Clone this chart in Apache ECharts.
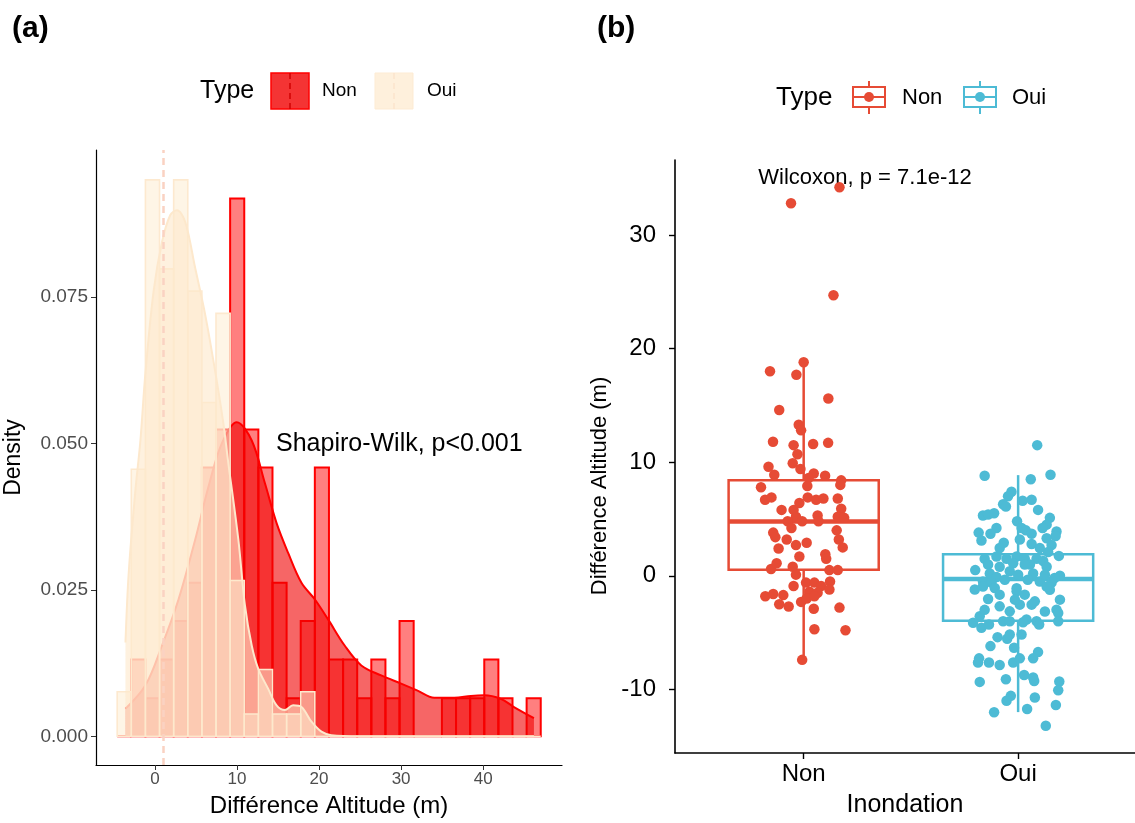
<!DOCTYPE html>
<html>
<head>
<meta charset="utf-8">
<script src="https://cdn.jsdelivr.net/npm/echarts@6/dist/echarts.min.js"></script>
<style>
  html, body { margin: 0; padding: 0; background: #fff; }
  #chart { width: 1135px; height: 823px; }
</style>
</head>
<body>
<div id="chart"></div>
<script>
// ---- panel (a): histogram + density ----
const binEdges = [-4.59, -2.87, -1.15, 0.57, 2.29, 4.01, 5.73, 7.45, 9.17, 10.89, 12.61, 14.33, 16.05, 17.77, 19.49,
  21.21, 22.93, 24.65, 26.37, 28.09, 29.81, 31.53, 33.25, 34.97, 36.69, 38.41, 40.13, 41.85, 43.57, 45.29, 47.01];
const histNon = [0, 0.0131, 0.0065, 0.0131, 0.0197, 0.0262, 0.0459, 0.0524, 0.0918, 0.0524, 0.0459, 0.0262, 0.0065, 0.0197, 0.0459,
  0.0131, 0.0131, 0.0065, 0.0131, 0.0065, 0.0197, 0, 0, 0.0065, 0.0065, 0.0065, 0.0131, 0.0065, 0, 0.0065];
const histOui = [0.0076, 0.0456, 0.0950, 0.0798, 0.0950, 0.0760, 0.0570, 0.0722, 0.0266, 0.0038, 0.0114, 0.0038, 0.0038, 0.0076, 0,
  0, 0, 0, 0, 0, 0, 0, 0, 0, 0, 0, 0, 0, 0, 0];

const densNon = [[-3.58, 0.0047], [-1.15, 0.0087], [0.87, 0.0155], [2.89, 0.0234], [4.92, 0.0336], [6.53, 0.0426],
  [8.16, 0.0500], [9.98, 0.0536], [11.80, 0.0505], [13.41, 0.0432], [14.83, 0.0364], [16.24, 0.0313], [17.86, 0.0262],
  [19.48, 0.0234], [21.09, 0.0200], [23.12, 0.0155], [25.15, 0.0121], [27.57, 0.0104], [30.00, 0.0090], [32.01, 0.0078],
  [34.04, 0.0066], [36.47, 0.0066], [38.50, 0.0069], [40.11, 0.0070], [42.14, 0.0064], [43.75, 0.0050], [46.18, 0.0031]];
const densOui = [[-3.58, 0.0160], [-3.18, 0.0280], [-2.37, 0.0420], [-1.76, 0.0505], [-1.15, 0.0620], [-0.15, 0.0760],
  [0.87, 0.0844], [1.88, 0.0890], [2.69, 0.0898], [3.70, 0.0878], [4.92, 0.0799], [6.13, 0.0720], [7.34, 0.0624],
  [8.35, 0.0534], [8.92, 0.0470], [10.17, 0.0336], [10.98, 0.0223], [11.80, 0.0155], [12.60, 0.0115], [13.81, 0.0081],
  [14.83, 0.0053], [15.84, 0.0045], [16.84, 0.0053], [17.86, 0.0050], [19.08, 0.0025], [20.29, 0.0008], [21.50, 0.0002],
  [25.00, 0], [35.00, 0], [46.18, 0]];
const meanLine = 1.03;

const histTicksX = [0, 10, 20, 30, 40];
const histTicksY = [0, 0.025, 0.05, 0.075];

// ---- panel (b): boxplot + jitter ----
const groups = ['Non', 'Oui'];
// [position, lower whisker, Q1, median, Q3, upper whisker]
const boxStats = [[1, -7.4, 0.53, 4.77, 8.42, 18.8], [2, -12.0, -3.95, -0.29, 1.90, 8.86]];
const pointsNon = [[1.167,34.2],[0.941,32.8],[1.139,24.7],[1.000,18.8],[0.843,18.0],[0.966,17.7],[1.115,15.6],[0.886,14.6],
  [0.977,13.3],[0.988,12.8],[0.857,11.8],[0.953,11.5],[1.044,11.6],[1.114,11.7],[0.971,10.7],[0.949,9.9],[0.836,9.6],
  [0.985,9.4],[1.047,9.0],[0.863,8.9],[1.100,8.8],[1.023,8.6],[1.175,8.4],[1.171,8.0],[0.801,7.8],[0.820,6.7],[0.850,6.9],
  [0.897,5.8],[0.953,5.8],[0.980,6.4],[1.019,6.9],[1.058,6.7],[1.092,6.8],[1.159,6.8],[1.175,5.9],[0.964,5.2],[0.993,4.8],
  [0.925,4.8],[1.065,5.3],[1.069,4.8],[1.159,5.2],[1.154,4.0],[0.858,3.8],[0.868,3.4],[0.921,3.2],[0.964,2.7],[1.014,2.9],
  [0.883,2.4],[1.164,3.2],[1.182,2.5],[0.980,1.7],[1.101,1.9],[1.105,1.5],[0.848,0.6],[0.874,1.1],[0.949,0.8],[0.964,0.1],
  [1.120,0.5],[1.159,0.5],[0.953,-0.9],[1.011,-0.6],[1.050,-0.6],[1.081,-0.9],[1.123,-0.5],[1.120,-1.2],[0.821,-1.8],
  [0.858,-1.6],[0.905,-1.7],[1.027,-1.4],[1.065,-1.5],[0.886,-2.5],[0.930,-2.7],[0.988,-2.3],[1.014,-2.0],[1.050,-1.8],
  [1.047,-2.9],[1.167,-2.8],[1.050,-4.7],[1.195,-4.8],[0.993,-7.4],[1.017,7.9],[1.189,5.1],[0.943,4.2]];
const pointsOui = [[2.089,11.5],[1.844,8.8],[2.151,8.9],[2.059,8.5],[1.969,7.4],[1.953,7.0],[2.063,6.7],[2.021,6.6],
  [1.930,6.3],[1.943,6.1],[2.093,5.8],[1.836,5.3],[1.860,5.4],[1.888,5.5],[2.148,5.1],[1.995,4.8],[2.133,4.5],[2.114,4.2],
  [1.899,4.2],[1.816,3.8],[1.871,3.7],[2.016,4.2],[2.036,4.0],[2.063,3.7],[2.179,3.9],[2.175,3.5],[1.829,3.1],[1.933,2.9],
  [2.008,3.2],[2.063,2.8],[2.133,3.3],[2.156,2.7],[2.140,2.1],[1.844,1.5],[1.899,1.7],[1.946,1.5],[1.993,1.7],[2.031,1.5],
  [2.086,1.5],[2.117,1.3],[1.860,1.0],[1.914,0.8],[1.977,1.1],[2.055,1.0],[2.133,0.8],[1.868,0.2],[1.899,-0.1],[1.961,0.4],
  [2.000,0.1],[2.070,0.2],[2.195,0.0],[1.836,-0.5],[1.876,-0.6],[1.993,-1.1],[2.101,-0.5],[2.156,-0.6],
  [1.836,-0.94],[1.891,-1.08],[1.993,-1.37],[2.031,-1.66],[2.078,-2.25],[2.063,-2.54],[2.008,-2.54],[1.961,-3.13],
  [1.914,-2.69],[1.860,-2.04],[2.148,-1.23],[2.133,-0.94],[2.179,-2.98],[2.187,-3.27],[2.086,-4.0],[2.039,-3.85],
  [1.930,-4.0],[1.821,-3.56],[1.790,-4.14],[1.829,-4.58],[1.864,-4.29],[1.961,-4.0],[2.023,-4.09],[2.098,-4.29],[2.187,-4.0],
  [1.904,-5.4],[1.949,-5.54],[1.961,-5.17],[2.016,-5.17],[1.871,-6.19],[1.981,-6.33],[2.093,-6.72],[2.070,-7.27],
  [1.818,-7.27],[1.813,-7.64],[1.864,-7.64],[1.914,-7.85],[1.977,-7.64],[2.008,-7.27],[2.028,-8.73],[2.070,-8.96],
  [2.075,-9.26],[1.821,-9.34],[1.943,-9.11],[2.192,-9.31],[2.187,-10.07],[1.966,-10.57],[1.946,-11.0],[2.078,-10.71],
  [2.176,-11.38],[1.888,-12.02],[2.042,-11.73],[2.129,-13.2],
  [1.914,2.45],[2.101,2.45],[2.190,1.75],[1.938,-0.35],[2.045,-0.35],[2.125,0.1],[2.170,-0.2],[1.798,-1.2],[1.914,-1.66],
  [2.195,-2.1],[1.985,-2.1],[1.844,-3.0],[2.125,-3.15],[1.800,0.5],[2.031,1.0]];
const boxTicksY = [-10, 0, 10, 20, 30];

const RED = '#FF0000';
const C_NON = '#E64B35';
const C_OUI = '#4DBBD5';
const FONT = 'Liberation Sans, Arial, sans-serif';

function histItem(fill, stroke, lw) {
  return function (params, api) {
    const a = api.coord([api.value(0), api.value(2)]);
    const b = api.coord([api.value(1), 0]);
    return {
      type: 'rect',
      shape: { x: a[0], y: a[1], width: b[0] - a[0], height: b[1] - a[1] },
      style: { fill: fill, stroke: stroke, lineWidth: lw }
    };
  };
}

function boxItem(color) {
  return function (params, api) {
    const c = api.value(0), hw = 0.35;
    const lo = api.coord([c, api.value(1)]);
    const q1 = api.coord([c, api.value(2)]);
    const q3 = api.coord([c, api.value(4)]);
    const hi = api.coord([c, api.value(5)]);
    const l = api.coord([c - hw, api.value(3)]);
    const r = api.coord([c + hw, api.value(3)]);
    const st = { stroke: color, lineWidth: 2.5, fill: 'none' };
    return {
      type: 'group',
      children: [
        { type: 'line', shape: { x1: hi[0], y1: hi[1], x2: q3[0], y2: q3[1] }, style: st },
        { type: 'line', shape: { x1: q1[0], y1: q1[1], x2: lo[0], y2: lo[1] }, style: st },
        { type: 'rect', shape: { x: l[0], y: q3[1], width: r[0] - l[0], height: q1[1] - q3[1] }, style: st },
        { type: 'line', shape: { x1: l[0], y1: l[1], x2: r[0], y2: r[1] }, style: { stroke: color, lineWidth: 4.5 } }
      ]
    };
  };
}

const chart = echarts.init(document.getElementById('chart'), null, { renderer: 'canvas' });

const option = {
  backgroundColor: '#fff',
  animation: false,
  textStyle: { fontFamily: FONT },
  grid: [
    { left: 96, top: 150, right: 573, bottom: 45 },
    { left: 675, top: 160, right: 0, bottom: 53 }
  ],
  xAxis: [
    {
      gridIndex: 0, type: 'value', min: -7.17, max: 49.6,
      name: 'Différence Altitude (m)', nameLocation: 'middle', nameGap: 29,
      nameTextStyle: { fontSize: 24, color: '#000', fontFamily: FONT },
      axisLine: { onZero: false, lineStyle: { color: '#000', width: 1.2 } },
      axisTick: { customValues: histTicksX, length: 5, lineStyle: { color: '#333' } },
      axisLabel: { customValues: histTicksX, fontSize: 17, color: '#4D4D4D', margin: 6, fontFamily: FONT },
      splitLine: { show: false }
    },
    {
      gridIndex: 1, type: 'value', min: 0.4, max: 2.545,
      name: 'Inondation', nameLocation: 'middle', nameGap: 40,
      nameTextStyle: { fontSize: 25, color: '#000', fontFamily: FONT },
      axisLine: { onZero: false, lineStyle: { color: '#000', width: 1.6 } },
      axisTick: { customValues: [1, 2], length: 6, lineStyle: { color: '#000', width: 1.4 } },
      axisLabel: {
        customValues: [1, 2], fontSize: 24, color: '#000', margin: 9, fontFamily: FONT,
        formatter: function (v) { return groups[Math.round(v) - 1]; }
      },
      splitLine: { show: false }
    }
  ],
  yAxis: [
    {
      gridIndex: 0, type: 'value', min: -0.0049, max: 0.1001,
      name: 'Density', nameLocation: 'middle', nameGap: 71,
      nameTextStyle: { fontSize: 23, color: '#000', fontFamily: FONT },
      axisLine: { onZero: false, lineStyle: { color: '#000', width: 1.2 } },
      axisTick: { customValues: histTicksY, length: 5, lineStyle: { color: '#333' } },
      axisLabel: {
        customValues: histTicksY, fontSize: 19, color: '#4D4D4D', margin: 8, fontFamily: FONT,
        formatter: function (v) { return v.toFixed(3); }
      },
      splitLine: { show: false }
    },
    {
      gridIndex: 1, type: 'value', min: -15.6, max: 36.6,
      axisLine: { onZero: false, lineStyle: { color: '#000', width: 1.6 } },
      axisTick: { customValues: boxTicksY, length: 6, lineStyle: { color: '#000', width: 1.4 } },
      axisLabel: { customValues: boxTicksY, fontSize: 24, color: '#000', margin: 19, fontFamily: FONT },
      splitLine: { show: false }
    }
  ],
  series: [
    {
      name: 'histNon', type: 'custom', xAxisIndex: 0, yAxisIndex: 0, z: 1,
      renderItem: histItem('rgba(255,0,0,0.5)', RED, 2),
      data: histNon.map(function (h, i) { return [binEdges[i], binEdges[i + 1], h]; }),
      silent: true
    },
    {
      name: 'densNon', type: 'line', xAxisIndex: 0, yAxisIndex: 0, z: 2,
      data: densNon, smooth: 0.35, showSymbol: false,
      lineStyle: { color: RED, width: 2 },
      areaStyle: { color: 'rgba(240,0,0,0.6)', opacity: 1 },
      silent: true
    },
    {
      name: 'histOui', type: 'custom', xAxisIndex: 0, yAxisIndex: 0, z: 3,
      renderItem: histItem('rgba(254,236,210,0.55)', '#FDE9CF', 1.6),
      data: histOui.map(function (h, i) { return [binEdges[i], binEdges[i + 1], h]; }),
      silent: true
    },
    {
      name: 'densOui', type: 'line', xAxisIndex: 0, yAxisIndex: 0, z: 4,
      data: densOui, smooth: 0.35, showSymbol: false,
      lineStyle: { color: '#FDE8CC', width: 2 },
      areaStyle: { color: 'rgba(253,232,204,0.62)', opacity: 1 },
      markLine: {
        silent: true, symbol: ['none', 'none'], label: { show: false },
        lineStyle: { color: '#FAD2C2', width: 2.5, type: [7, 5] },
        data: [{ xAxis: meanLine }]
      },
      silent: true
    },
    {
      name: 'boxNon', type: 'custom', xAxisIndex: 1, yAxisIndex: 1, z: 5,
      renderItem: boxItem(C_NON), data: [boxStats[0]], silent: true
    },
    {
      name: 'boxOui', type: 'custom', xAxisIndex: 1, yAxisIndex: 1, z: 5,
      renderItem: boxItem(C_OUI), data: [boxStats[1]], silent: true
    },
    {
      name: 'ptsNon', type: 'scatter', xAxisIndex: 1, yAxisIndex: 1, z: 6,
      data: pointsNon, symbolSize: 10.5, itemStyle: { color: C_NON, opacity: 1 }, silent: true
    },
    {
      name: 'ptsOui', type: 'scatter', xAxisIndex: 1, yAxisIndex: 1, z: 6,
      data: pointsOui, symbolSize: 10.5, itemStyle: { color: C_OUI, opacity: 1 }, silent: true
    }
  ],
  graphic: [
    { type: 'text', left: 12, top: 14, style: { text: '(a)', font: 'bold 30px ' + FONT, fill: '#000' } },
    { type: 'text', left: 597, top: 14, style: { text: '(b)', font: 'bold 30px ' + FONT, fill: '#000' } },
    // right panel y title
    { type: 'text', x: 600, y: 486, rotation: Math.PI / 2,
      style: { text: 'Différence Altitude (m)', font: '22px ' + FONT, fill: '#000', align: 'center', verticalAlign: 'middle' } },
    // legend (a)
    { type: 'text', x: 200, y: 91, style: { text: 'Type', font: '25px ' + FONT, fill: '#000', verticalAlign: 'middle' } },
    { type: 'rect', shape: { x: 271, y: 73, width: 38, height: 36 }, style: { fill: '#F43434', stroke: RED, lineWidth: 1.5 } },
    { type: 'line', shape: { x1: 290, y1: 73, x2: 290, y2: 109 }, style: { stroke: '#D00000', lineWidth: 1.5, lineDash: [6, 4] } },
    { type: 'text', x: 322, y: 91, style: { text: 'Non', font: '19px ' + FONT, fill: '#000', verticalAlign: 'middle' } },
    { type: 'rect', shape: { x: 375, y: 73, width: 38, height: 36 }, style: { fill: '#FEF0DC', stroke: '#FDEBD3', lineWidth: 1 } },
    { type: 'line', shape: { x1: 394, y1: 73, x2: 394, y2: 109 }, style: { stroke: '#FBE3CC', lineWidth: 1.5, lineDash: [6, 4] } },
    { type: 'text', x: 427, y: 91, style: { text: 'Oui', font: '19px ' + FONT, fill: '#000', verticalAlign: 'middle' } },
    // legend (b)
    { type: 'text', x: 776, y: 98, style: { text: 'Type', font: '26px ' + FONT, fill: '#000', verticalAlign: 'middle' } },
    { type: 'rect', shape: { x: 853, y: 87, width: 32, height: 20 }, style: { fill: 'none', stroke: C_NON, lineWidth: 2 } },
    { type: 'line', shape: { x1: 853, y1: 97, x2: 885, y2: 97 }, style: { stroke: C_NON, lineWidth: 2 } },
    { type: 'line', shape: { x1: 869, y1: 81, x2: 869, y2: 87 }, style: { stroke: C_NON, lineWidth: 2 } },
    { type: 'line', shape: { x1: 869, y1: 107, x2: 869, y2: 114 }, style: { stroke: C_NON, lineWidth: 2 } },
    { type: 'circle', shape: { cx: 869, cy: 97, r: 5 }, style: { fill: C_NON } },
    { type: 'text', x: 902, y: 98, style: { text: 'Non', font: '22px ' + FONT, fill: '#000', verticalAlign: 'middle' } },
    { type: 'rect', shape: { x: 964, y: 87, width: 32, height: 20 }, style: { fill: 'none', stroke: C_OUI, lineWidth: 2 } },
    { type: 'line', shape: { x1: 964, y1: 97, x2: 996, y2: 97 }, style: { stroke: C_OUI, lineWidth: 2 } },
    { type: 'line', shape: { x1: 980, y1: 81, x2: 980, y2: 87 }, style: { stroke: C_OUI, lineWidth: 2 } },
    { type: 'line', shape: { x1: 980, y1: 107, x2: 980, y2: 114 }, style: { stroke: C_OUI, lineWidth: 2 } },
    { type: 'circle', shape: { cx: 980, cy: 97, r: 5 }, style: { fill: C_OUI } },
    { type: 'text', x: 1012, y: 98, style: { text: 'Oui', font: '22px ' + FONT, fill: '#000', verticalAlign: 'middle' } },
    // annotations
    { type: 'text', x: 276, y: 444, style: { text: 'Shapiro-Wilk, p<0.001', font: '25px ' + FONT, fill: '#000', verticalAlign: 'middle' } },
    { type: 'text', x: 865, y: 178, style: { text: 'Wilcoxon, p = 7.1e-12', font: '22px ' + FONT, fill: '#000', align: 'center', verticalAlign: 'middle' } }
  ]
};

chart.setOption(option);
window.addEventListener('resize', function () { chart.resize(); });
</script>
</body>
</html>
